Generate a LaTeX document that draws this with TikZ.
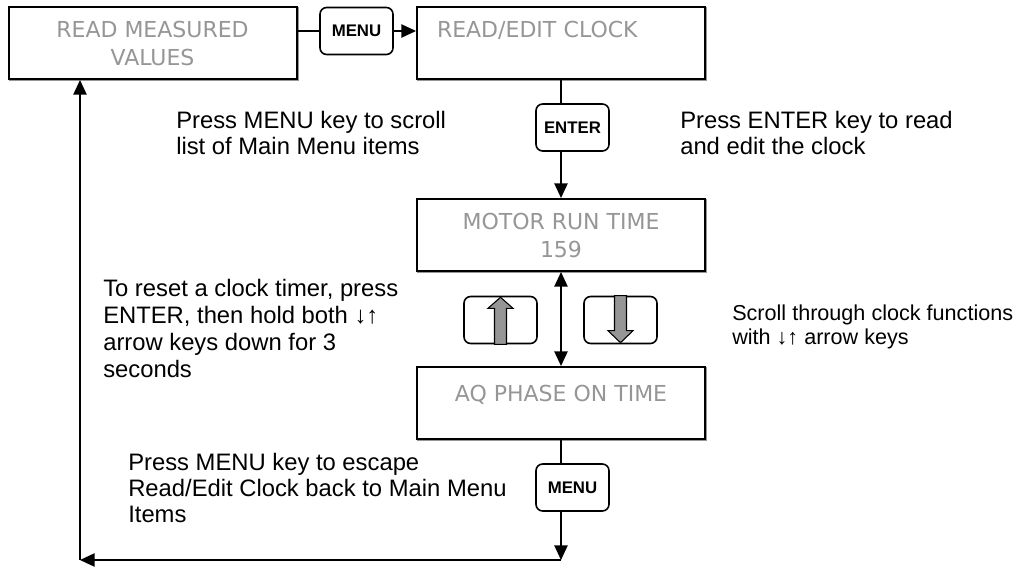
\documentclass[tikz,border=0pt]{standalone}
\usepackage{fontspec}
\setmainfont{Liberation Sans}
\newfontfamily\boxfont{DejaVu Sans}
\usetikzlibrary{arrows.meta}
\definecolor{boxtext}{RGB}{150,150,150}
\definecolor{keyfill}{RGB}{150,150,150}
\definecolor{shadowgray}{RGB}{150,150,150}
\begin{document}
\begin{tikzpicture}[x=0.75pt,y=-0.75pt,
  screen/.style={draw, line width=1.5pt, fill=white, minimum width=216pt, minimum height=54pt,
    font=\boxfont\fontsize{16.5}{21}\selectfont, text=boxtext, align=center,
    preaction={draw=shadowgray, line width=1.5pt, transform canvas={xshift=0.8pt,yshift=-1pt}}},
  keybox/.style={draw, line width=1.2pt, fill=white, rounded corners=5pt, minimum width=54.75pt, minimum height=35.25pt,
    font=\bfseries\fontsize{12.6}{14}\selectfont},
  note/.style={align=left, inner sep=0pt, font=\fontsize{17.85}{19.5}\selectfont, anchor=base west},
  conn/.style={line width=1.1pt},
  arr/.style={conn, -{Triangle[length=11pt,width=10pt]}},
  darr/.style={conn, {Triangle[length=11pt,width=10pt]}-{Triangle[length=11pt,width=10pt]}},
  keyarrow/.style={fill=keyfill, draw=black, line width=0.8pt, line join=miter}
]
\useasboundingbox (0,0) rectangle (1018,567);

% screens
\node[screen] (box1) at (152.5,43) {READ MEASURED\\VALUES};
\node[screen, align=left, text width=186pt, inner xsep=15pt] (box2) at (561,43) {READ/EDIT CLOCK\\\mbox{}};
\node[screen] (box3) at (561,235) {MOTOR RUN TIME\\159};
\node[screen] (box4) at (561,403) {AQ PHASE ON TIME\\[-6pt]\mbox{}};

% keys
\node[keybox] (key1) at (356.5,31) {MENU};
\node[keybox] (enter) at (572.5,127.5) {ENTER};
\node[keybox] (up) at (500.5,320) {};
\node[keybox] (down) at (620.5,320) {};
\node[keybox] (menu2) at (572.5,487.5) {MENU};

% arrows drawn inside the up/down keys
\begin{scope}[shift={(up.south)}]
  \draw[keyarrow] (-6,0) -- (-6,-36) -- (-12.5,-36) -- (0,-47) -- (12.5,-36) -- (6,-36) -- (6,0) -- cycle;
\end{scope}
\begin{scope}[shift={(down.north)}]
  \draw[keyarrow] (-6,0) -- (-6,35) -- (-12.5,35) -- (0,47) -- (12.5,35) -- (6,35) -- (6,0) -- cycle;
\end{scope}

% connectors
\coordinate (bot) at (561,560);
\coordinate (corner) at (80,560);
\draw[conn] (box1.east |- key1.west) -- (key1.west);
\draw[arr] (key1.east) -- (box2.west |- key1.east);
\draw[conn] (box2.south) -- (box2.south |- enter.north);
\draw[arr] (box2.south |- enter.south) -- (box3.north);
\draw[darr] (box3.south) -- (box4.north);
\draw[conn] (box4.south) -- (box4.south |- menu2.north);
\draw[arr] (box4.south |- menu2.south) -- (bot);
\draw[arr] (bot) -- (corner);
\draw[arr] (corner) -- (corner |- box1.south);

% notes (anchor = baseline of last line)
\node[note] (n1) at (176,154.5) {Press MENU key to scroll\\list of Main Menu items};
\node[note] (n2) at (680,154.5) {Press ENTER key to read\\and edit the clock};
\node[note, font=\fontsize{17.85}{20.25}\selectfont] (n3) at (103,377.5) {To reset a clock timer, press\\ENTER, then hold both ↓↑\\arrow keys down for 3\\seconds};
\node[note, font=\fontsize{16.2}{18}\selectfont] (n4) at (732,344) {Scroll through clock functions\\with ↓↑ arrow keys};
\node[note] (n5) at (128,522.5) {Press MENU key to escape\\Read/Edit Clock back to Main Menu\\Items};
\end{tikzpicture}
\end{document}
